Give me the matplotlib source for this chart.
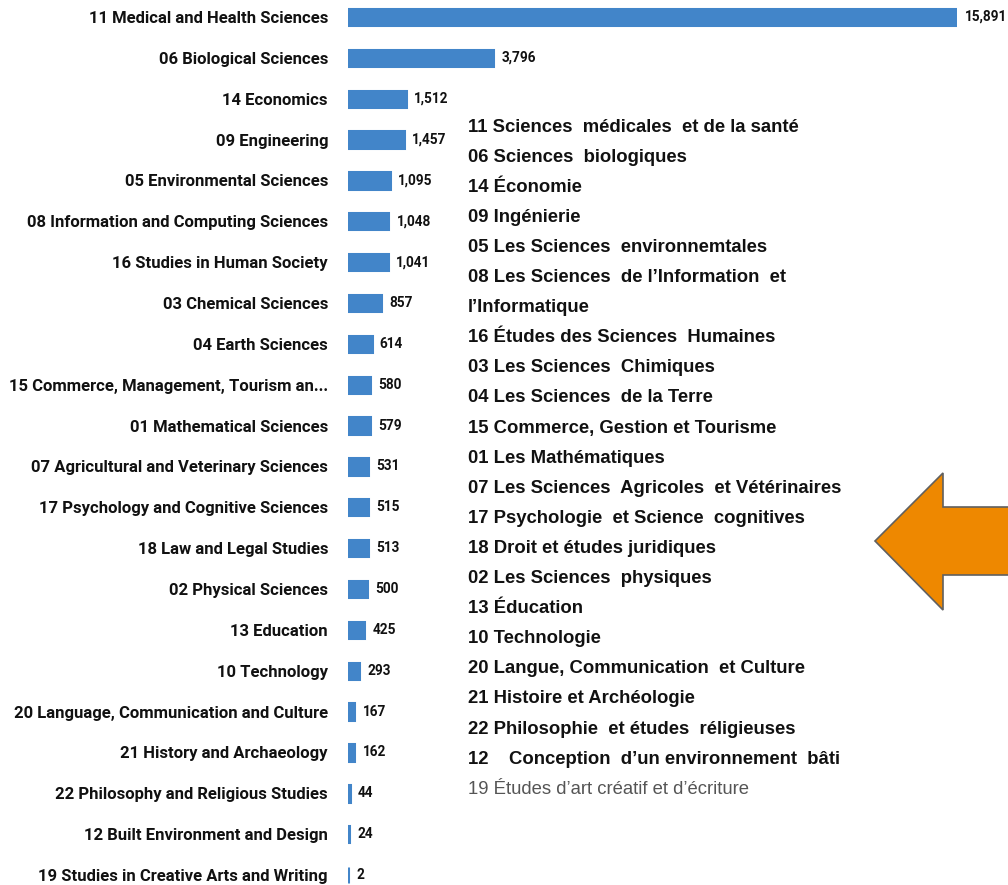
import matplotlib
matplotlib.use("Agg")
import matplotlib.pyplot as plt
from matplotlib.patches import Polygon
from matplotlib import font_manager

categories = [
    "11 Medical and Health Sciences", "06 Biological Sciences", "14 Economics",
    "09 Engineering", "05 Environmental Sciences", "08 Information and Computing Sciences",
    "16 Studies in Human Society", "03 Chemical Sciences", "04 Earth Sciences",
    "15 Commerce, Management, Tourism an...", "01 Mathematical Sciences",
    "07 Agricultural and Veterinary Sciences", "17 Psychology and Cognitive Sciences",
    "18 Law and Legal Studies", "02 Physical Sciences", "13 Education", "10 Technology",
    "20 Language, Communication and Culture", "21 History and Archaeology",
    "22 Philosophy and Religious Studies", "12 Built Environment and Design",
    "19 Studies in Creative Arts and Writing",
]
values = [15891, 3796, 1512, 1457, 1095, 1048, 1041, 857, 614, 580, 579, 531, 515,
          513, 500, 425, 293, 167, 162, 44, 24, 2]

french_lines = [
    "11 Sciences  médicales  et de la santé", "06 Sciences  biologiques", "14 Économie",
    "09 Ingénierie", "05 Les Sciences  environnemtales",
    "08 Les Sciences  de l\u2019Information  et", "l\u2019Informatique",
    "16 Études des Sciences  Humaines", "03 Les Sciences  Chimiques",
    "04 Les Sciences  de la Terre", "15 Commerce, Gestion et Tourisme",
    "01 Les Mathématiques", "07 Les Sciences  Agricoles  et Vétérinaires",
    "17 Psychologie  et Science  cognitives", "18 Droit et études juridiques",
    "02 Les Sciences  physiques", "13 Éducation", "10 Technologie",
    "20 Langue, Communication  et Culture", "21 Histoire et Archéologie",
    "22 Philosophie  et études  réligieuses", "12    Conception  d\u2019un environnement  bâti",
    "19 Études d\u2019art créatif et d\u2019écriture",
]

names = {f.name for f in font_manager.fontManager.ttflist}
label_font = "Roboto" if "Roboto" in names else "DejaVu Sans"
narrow = "Liberation Sans Narrow" if "Liberation Sans Narrow" in names else "Liberation Sans"

W, H = 1008, 885
fig = plt.figure(figsize=(W / 100, H / 100), dpi=100)
fig.patch.set_facecolor("white")

ax_left, ax_right = 348, 957
ax = fig.add_axes([ax_left / W, 0, (ax_right - ax_left) / W, 1])
n = len(categories)
ypos = list(range(n))
bar_color = "#4285C9"
ax.barh(ypos, values, height=0.40, color=bar_color, edgecolor=bar_color, linewidth=2.2)
ax.set_xlim(0, values[0])
row = 40.86
top = 17
ax.set_ylim((H - top) / row, -top / row)
ax.set_yticks(ypos)
ax.set_yticklabels(categories, fontfamily=label_font, fontweight="bold", fontsize=12,
                   color="#111111")
ax.tick_params(axis="y", length=0, pad=14.4)
ax.set_xticks([])
for s in ax.spines.values():
    s.set_visible(False)
for y, v in zip(ypos, values):
    ax.annotate(f"{v:,}", (v, y), xytext=(6, 0), textcoords="offset points",
                ha="left", va="center", fontsize=9.8, fontweight="bold",
                fontfamily=label_font, color="#111111", annotation_clip=False)

# French list
x0 = 468 / W
y_first = 127
step = 30.1
fam = [narrow, "DejaVu Sans"] if narrow != "Liberation Sans" else ["Liberation Sans", "DejaVu Sans"]
for i, line in enumerate(french_lines):
    last = i == len(french_lines) - 1
    fig.text(x0, 1 - (y_first + i * step) / H, line, ha="left", va="center",
             fontfamily=fam, fontsize=15.5 if narrow != "Liberation Sans" else 13.3,
             fontweight="normal" if last else "bold",
             color="#555555" if last else "#111111")

# Orange arrow
pts = [(875, 541), (943, 473), (943, 507), (1012, 507), (1012, 575), (943, 575), (943, 610)]
arrow = Polygon([(x / W, 1 - y / H) for x, y in pts], closed=True,
                transform=fig.transFigure, facecolor="#EE8800", edgecolor="#606060",
                linewidth=1.2, clip_on=False)
fig.patches.append(arrow)

fig.savefig("out.png", dpi=100, facecolor="white")
